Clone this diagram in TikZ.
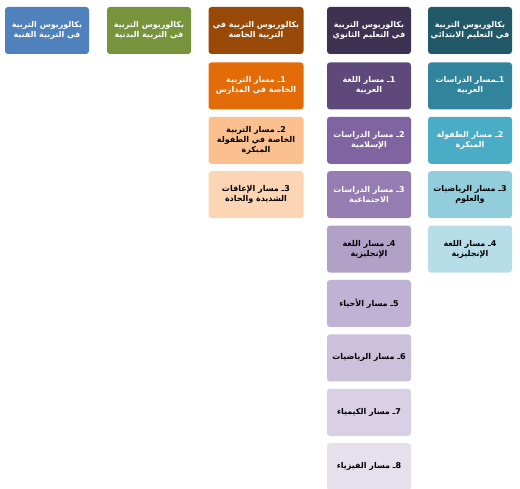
\documentclass[tikz,border=0pt]{standalone}
\usepackage{fontspec}
\usepackage{xcolor}
\newfontfamily\arabicfont[Script=Arabic]{DejaVu Sans}
\TeXXeTstate=1
\usetikzlibrary{positioning}

\newcommand{\ar}[1]{\beginR #1\endR}

\definecolor{tealD}{HTML}{215968}
\definecolor{tealA}{HTML}{31849B}
\definecolor{tealB}{HTML}{4BACC6}
\definecolor{tealC}{HTML}{92CDDC}
\definecolor{tealE}{HTML}{B7DEE8}
\definecolor{plumD}{HTML}{3F3151}
\definecolor{plumA}{HTML}{5F497A}
\definecolor{plumB}{HTML}{8064A2}
\definecolor{plumC}{HTML}{957DB1}
\definecolor{plumE}{HTML}{B2A1C7}
\definecolor{plumF}{HTML}{C0B2D4}
\definecolor{plumG}{HTML}{CCC1DA}
\definecolor{plumH}{HTML}{D9D0E5}
\definecolor{plumI}{HTML}{E5E0EC}
\definecolor{rustD}{HTML}{984807}
\definecolor{rustA}{HTML}{E36C09}
\definecolor{rustB}{HTML}{FAC090}
\definecolor{rustC}{HTML}{FCD5B5}
\definecolor{oliveD}{HTML}{77933C}
\definecolor{blueD}{HTML}{4F81BD}

\begin{document}
\begin{tikzpicture}[
    x=1pt, y=-1pt,
    box/.style={rectangle, rounded corners=3pt, minimum height=47pt, minimum width=84pt, inner sep=1pt, align=center, font=\arabicfont\bfseries\fontsize{8}{10}\selectfont},
    darkbox/.style={box, text=white},
    lightbox/.style={box, text=black},
    widebox/.style={minimum width=95pt},
    node distance=7pt
]
\useasboundingbox (0,0) rectangle (520,489);

% Primary education (right column)
\node[darkbox, fill=tealD] (prim) at (470, 30.5) {\ar{بكالوريوس التربية}\\\ar{في التعليم الابتدائي}};
\node[darkbox, fill=tealA, below=8pt of prim] (prim1) {\ar{1ـمسار الدراسات}\\\ar{العربية}};
\node[darkbox, fill=tealB, below=of prim1] (prim2) {\ar{2ـ مسار الطفولة}\\\ar{المبكرة}};
\node[lightbox, fill=tealC, below=of prim2] (prim3) {\ar{3ـ مسار الرياضيات}\\\ar{والعلوم}};
\node[lightbox, fill=tealE, below=of prim3] (prim4) {\ar{4ـ مسار اللغة}\\\ar{الإنجليزية}};

% Secondary education
\node[darkbox, fill=plumD] (sec) at (369, 30.5) {\ar{بكالوريوس التربية}\\\ar{في التعليم الثانوي}};
\node[darkbox, fill=plumA, below=8pt of sec] (sec1) {\ar{1ـ مسار اللغة}\\\ar{العربية}};
\node[darkbox, fill=plumB, below=of sec1] (sec2) {\ar{2ـ مسار الدراسات}\\\ar{الإسلامية}};
\node[darkbox, fill=plumC, below=of sec2] (sec3) {\ar{3ـ مسار الدراسات}\\\ar{الاجتماعية}};
\node[lightbox, fill=plumE, below=of sec3] (sec4) {\ar{4ـ مسار اللغة}\\\ar{الإنجليزية}};
\node[lightbox, fill=plumF, below=of sec4] (sec5) {\ar{5ـ مسار الأحياء}};
\node[lightbox, fill=plumG, below=of sec5] (sec6) {\ar{6ـ مسار الرياضيات}};
\node[lightbox, fill=plumH, below=of sec6] (sec7) {\ar{7ـ مسار الكيمياء}};
\node[lightbox, fill=plumI, below=of sec7] (sec8) {\ar{8ـ مسار الفيزياء}};

% Special education
\node[darkbox, widebox, fill=rustD] (spec) at (256, 30.5) {\ar{بكالوريوس التربية في}\\\ar{التربية الخاصة}};
\node[darkbox, widebox, fill=rustA, below=8pt of spec] (spec1) {\ar{1ـ مسار التربية}\\\ar{الخاصة في المدارس}};
\node[lightbox, widebox, fill=rustB, below=of spec1] (spec2) {\ar{2ـ مسار التربية}\\\ar{الخاصة في الطفولة}\\\ar{المبكرة}};
\node[lightbox, widebox, fill=rustC, below=of spec2] (spec3) {\ar{3ـ مسار الإعاقات}\\\ar{الشديدة والحادة}};

% Physical and art education
\node[darkbox, fill=oliveD] (phys) at (149, 30.5) {\ar{بكالوريوس التربية}\\\ar{في التربية البدنية}};
\node[darkbox, fill=blueD] (art) at (47, 30.5) {\ar{بكالوريوس التربية}\\\ar{في التربية الفنية}};

\end{tikzpicture}
\end{document}
